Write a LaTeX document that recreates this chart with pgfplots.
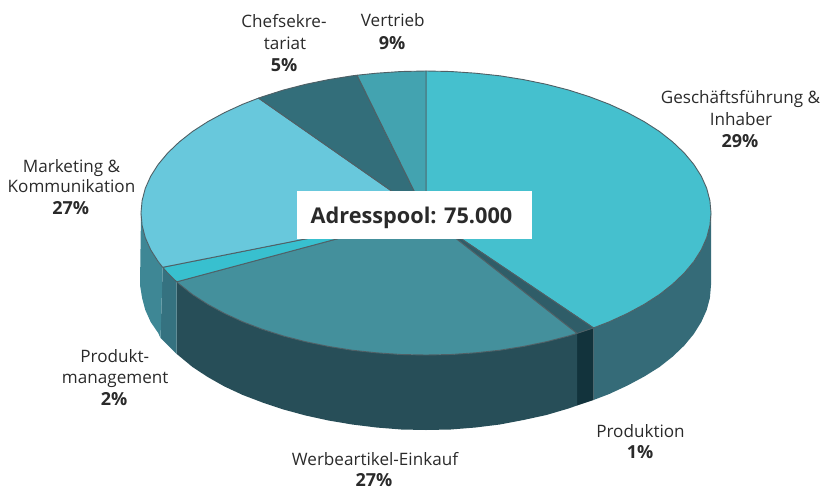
\documentclass[border=0pt]{standalone}
\usepackage{fontspec}
\setmainfont{Open Sans}
\usepackage{pgfplots}
\pgfplotsset{compat=1.18}
\definecolor{cA}{HTML}{45C0CE}
\definecolor{cB}{HTML}{2F5D68}
\definecolor{cC}{HTML}{44909C}
\definecolor{cD}{HTML}{38C0CF}
\definecolor{cE}{HTML}{68C8DC}
\definecolor{cF}{HTML}{336E7A}
\definecolor{cG}{HTML}{43A3B0}
\definecolor{wA}{HTML}{356B78}
\definecolor{wB}{HTML}{12333C}
\definecolor{wC}{HTML}{274E58}
\definecolor{wD}{HTML}{357280}
\definecolor{wE}{HTML}{3E8795}
\definecolor{edge}{HTML}{4F6066}
\definecolor{txt}{HTML}{2A2A2A}
\begin{document}
\begin{tikzpicture}
\begin{axis}[
  width=822pt,height=488pt,scale only axis,hide axis,
  xmin=0,xmax=822,ymin=0,ymax=488,y dir=reverse,clip=false,
  every axis plot/.append style={line width=0.9pt,line join=round},
]
\path (axis cs:0,0) (axis cs:822,488);
% walls
\addplot[fill=wA,draw=none] coordinates {(711,213)(709.9,225.4)(706.7,237.7)(701.3,249.8)(693.8,261.6)(684.3,273)(672.8,284)(659.5,294.5)(644.3,304.3)(627.5,313.4)(609.2,321.8)(593.5,327.9)(593.5,400)(609.2,394)(627.5,385.5)(644.3,376.5)(659.5,367)(672.8,356.5)(684.3,345.5)(693.8,334)(701.3,322)(706.7,310)(709.9,298)(711,285)} -- cycle;
\addplot[fill=wB,draw=none] coordinates {(593.5,327.9)(577,333.4)(577,405.5)(593.5,400)} -- cycle;
\addplot[fill=wC,draw=none] coordinates {(577,333.4)(568.5,336)(546.4,341.7)(523.5,346.4)(499.8,350.2)(475.5,352.8)(450.8,354.5)(426,355)(401.2,354.5)(376.5,352.8)(352.2,350.2)(328.5,346.4)(305.6,341.7)(283.5,336)(262.5,329.3)(242.8,321.8)(224.5,313.4)(207.7,304.3)(192.5,294.5)(179.2,284)(176.7,281.8)(176.7,354)(179.2,356)(192.5,367)(207.7,377)(224.5,386.5)(242.8,395)(262.5,402.5)(283.5,409.5)(305.6,415.5)(328.5,420.5)(352.2,424.5)(376.5,427.5)(401.2,429.5)(426,430)(450.8,429.5)(475.5,427.5)(499.8,424.5)(523.5,420)(546.4,415)(568.5,408.5)(577,405.5)} -- cycle;
\addplot[fill=wD,draw=none] coordinates {(176.7,281.8)(167.7,273)(162.7,267.3)(160.5,338)(167.7,345)(176.7,354)} -- cycle;
\addplot[fill=wE,draw=none] coordinates {(162.7,267.3)(158.2,261.6)(150.7,249.8)(145.3,237.7)(142.1,225.4)(141,213)(140,285)(142.1,298)(145.3,310)(150.7,322)(158.2,333)(160.5,338)} -- cycle;
% top slices
\addplot[fill=cA,draw=edge] coordinates {(426,215)(426,71)(450.8,71.5)(475.5,73.2)(499.8,75.8)(523.5,79.6)(546.4,84.3)(568.5,90)(589.5,96.7)(609.2,104.2)(627.5,112.6)(644.3,121.7)(659.5,131.5)(672.8,142)(684.3,153)(693.8,164.4)(701.3,176.2)(706.7,188.3)(709.9,200.6)(711,213)(709.9,225.4)(706.7,237.7)(701.3,249.8)(693.8,261.6)(684.3,273)(672.8,284)(659.5,294.5)(644.3,304.3)(627.5,313.4)(609.2,321.8)(593.5,327.9)} -- cycle;
\addplot[fill=cB,draw=edge] coordinates {(426,215)(593.5,327.9)(577,333.4)} -- cycle;
\addplot[fill=cC,draw=edge] coordinates {(426,215)(577,333.4)(568.5,336)(546.4,341.7)(523.5,346.4)(499.8,350.2)(475.5,352.8)(450.8,354.5)(426,355)(401.2,354.5)(376.5,352.8)(352.2,350.2)(328.5,346.4)(305.6,341.7)(283.5,336)(262.5,329.3)(242.8,321.8)(224.5,313.4)(207.7,304.3)(192.5,294.5)(179.2,284)(176.7,281.8)} -- cycle;
\addplot[fill=cD,draw=edge] coordinates {(426,215)(176.7,281.8)(167.7,273)(162.7,267.3)} -- cycle;
\addplot[fill=cE,draw=edge] coordinates {(426,215)(162.7,267.3)(158.2,261.6)(150.7,249.8)(145.3,237.7)(142.1,225.4)(141,213)(142.1,200.6)(145.3,188.3)(150.7,176.2)(158.2,164.4)(167.7,153)(179.2,142)(192.5,131.5)(207.7,121.7)(224.5,112.6)(242.8,104.2)(258.5,98.1)} -- cycle;
\addplot[fill=cF,draw=edge] coordinates {(426,215)(258.5,98.1)(262.5,96.7)(283.5,90)(305.6,84.3)(328.5,79.6)(352.2,75.8)(357.1,75.2)} -- cycle;
\addplot[fill=cG,draw=edge] coordinates {(426,215)(357.1,75.2)(376.5,73.2)(401.2,71.5)(426,71)} -- cycle;
% white box
\addplot[fill=white,draw=none] coordinates {(297,191)(532,191)(532,239)(297,239)} -- cycle;
\tikzset{lab/.style={text=txt,font=\fontsize{17.1}{20}\selectfont,anchor=base,inner sep=0pt},blab/.style={lab,font=\fontsize{18}{20}\bfseries\selectfont}}
\node[lab] at (axis cs:740.5,103) {Geschäftsführung \&};
\node[lab] at (axis cs:741,125) {Inhaber};
\node[blab] at (axis cs:740,147.5) {29\%};
\node[lab] at (axis cs:284,27.7) {Chefsekre-};
\node[lab] at (axis cs:285,49.3) {tariat};
\node[blab] at (axis cs:284,71) {5\%};
\node[lab] at (axis cs:392.8,26.7) {Vertrieb};
\node[blab] at (axis cs:392,49.3) {9\%};
\node[lab] at (axis cs:71.5,172.7) {Marketing \&};
\node[lab] at (axis cs:71.5,192.7) {Kommunikation};
\node[blab] at (axis cs:70.7,214.3) {27\%};
\node[lab] at (axis cs:114.8,362.7) {Produkt-};
\node[lab] at (axis cs:115.2,383) {management};
\node[blab] at (axis cs:114,405) {2\%};
\node[lab] at (axis cs:640.5,437) {Produktion};
\node[blab] at (axis cs:640,458.5) {1\%};
\node[lab] at (axis cs:375,465.7) {Werbeartikel-Einkauf};
\node[blab] at (axis cs:374,486) {27\%};
\node[text=txt,inner sep=0pt,anchor=base,font=\fontsize{21.7}{26}\bfseries\selectfont] at (axis cs:411.5,223.3) {Adresspool: 75.000};
\end{axis}
\end{tikzpicture}
\end{document}
